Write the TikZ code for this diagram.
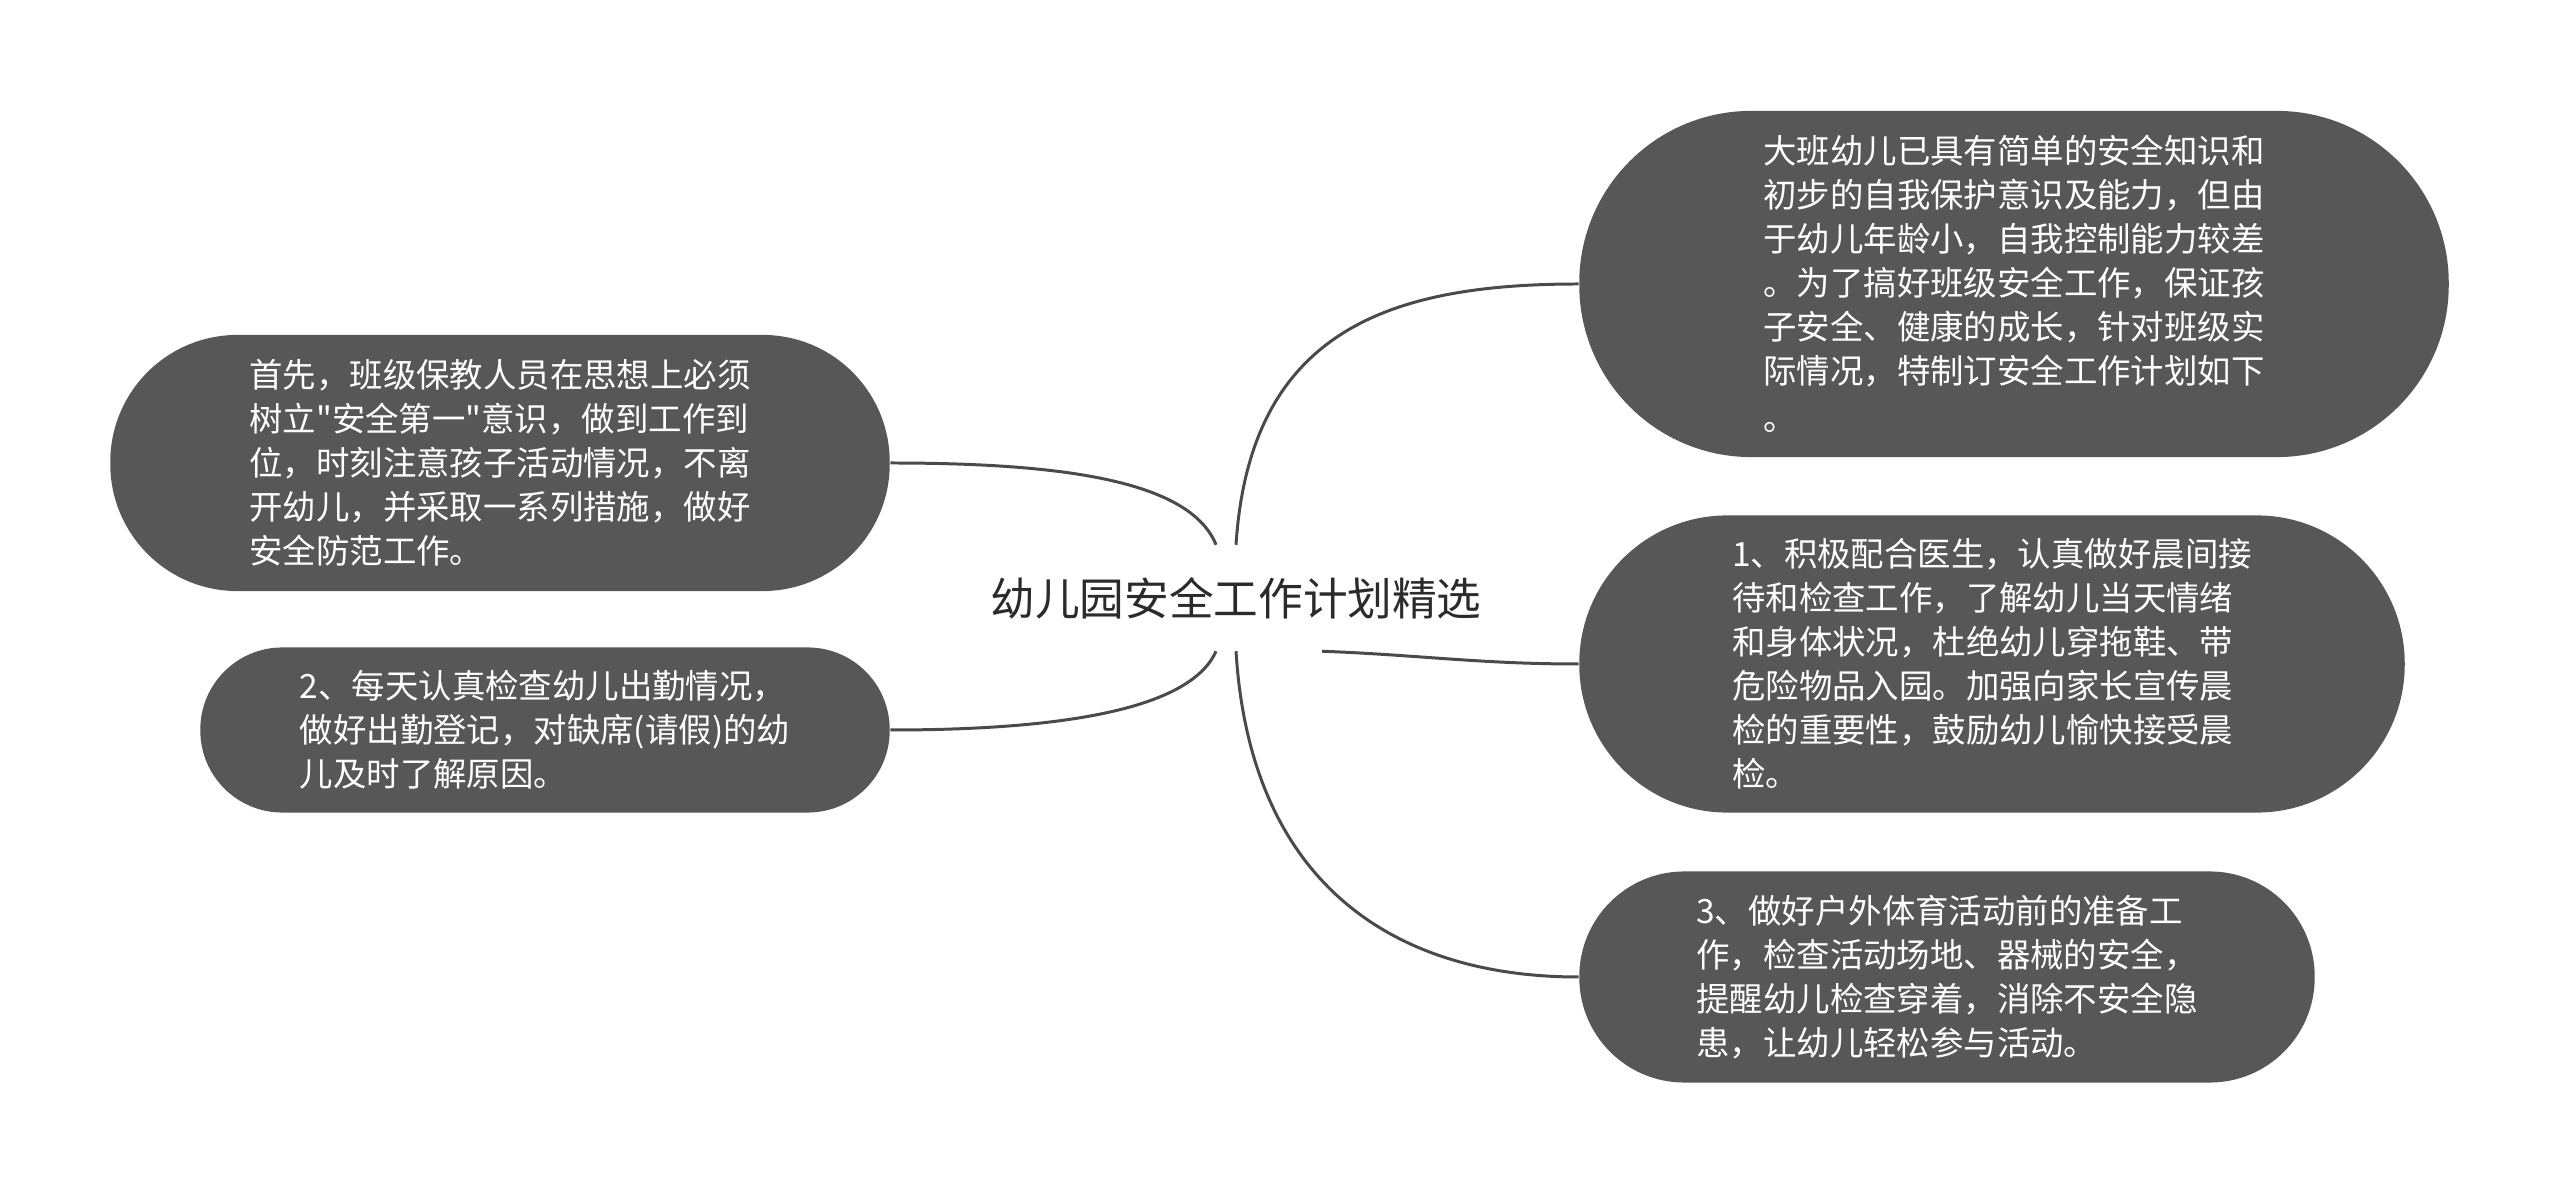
\documentclass[tikz,border=0pt]{standalone}
\usepackage{fontspec}
\setmainfont{Noto Sans CJK SC}[Ligatures=TeXOff]
\definecolor{nodegray}{HTML}{575757}
\definecolor{linegray}{HTML}{4A4A4A}
\definecolor{titlegray}{HTML}{2B2B2B}
\begin{document}
\begin{tikzpicture}[x=0.01cm,y=-0.01cm,
  topic/.style={fill=nodegray, text=white, align=left, font=\fontsize{9.5}{12.5}\selectfont, inner sep=0pt},
  link/.style={draw=linegray, line width=0.85pt},
  root/.style={text=titlegray, font=\fontsize{12.7}{15}\selectfont, inner sep=0pt, minimum height=1.05cm}]
\useasboundingbox[fill=white] (0,0) rectangle (2560,1195);
\node[root] (c) at (1236,598) {幼儿园安全工作计划精选};
\node[topic, minimum width=7.79cm, minimum height=2.56cm, rounded corners=1.27cm] (l1) at (500,463)
 {首先，班级保教人员在思想上必须\\树立"安全第一"意识，做到工作到\\位，时刻注意孩子活动情况，不离\\开幼儿，并采取一系列措施，做好\\安全防范工作。};
\node[topic, minimum width=6.89cm, minimum height=1.65cm, rounded corners=0.82cm] (l2) at (545,730)
 {2、每天认真检查幼儿出勤情况，\\做好出勤登记，对缺席(请假)的幼\\儿及时了解原因。};
\node[topic, minimum width=8.69cm, minimum height=3.46cm, rounded corners=1.72cm] (r1) at (2014,284)
 {大班幼儿已具有简单的安全知识和\\初步的自我保护意识及能力，但由\\于幼儿年龄小，自我控制能力较差\\。为了搞好班级安全工作，保证孩\\子安全、健康的成长，针对班级实\\际情况，特制订安全工作计划如下\\[1pt]。};
\node[topic, minimum width=8.25cm, minimum height=2.97cm, rounded corners=1.48cm] (r2) at (1992,664)
 {1、积极配合医生，认真做好晨间接\\待和检查工作，了解幼儿当天情绪\\和身体状况，杜绝幼儿穿拖鞋、带\\危险物品入园。加强向家长宣传晨\\检的重要性，鼓励幼儿愉快接受晨\\检。};
\node[topic, minimum width=7.35cm, minimum height=2.11cm, rounded corners=1.05cm] (r3) at (1947,977)
 {3、做好户外体育活动前的准备工\\作，检查活动场地、器械的安全，\\提醒幼儿检查穿着，消除不安全隐\\患，让幼儿轻松参与活动。};
\draw[link] ([xshift=-0.2cm]c.north) .. controls (1190,480) and (1060,463) .. (l1.east);
\draw[link] (c.north) .. controls (1250,330) and (1390,284) .. (r1.west);
\draw[link] ([xshift=-0.2cm]c.south) .. controls (1190,710) and (1060,730) .. (l2.east);
\draw[link] ([xshift=0.86cm]c.south) .. controls (1420,655) and (1480,664) .. (r2.west);
\draw[link] (c.south) .. controls (1250,880) and (1390,977) .. (r3.west);
\end{tikzpicture}
\end{document}
